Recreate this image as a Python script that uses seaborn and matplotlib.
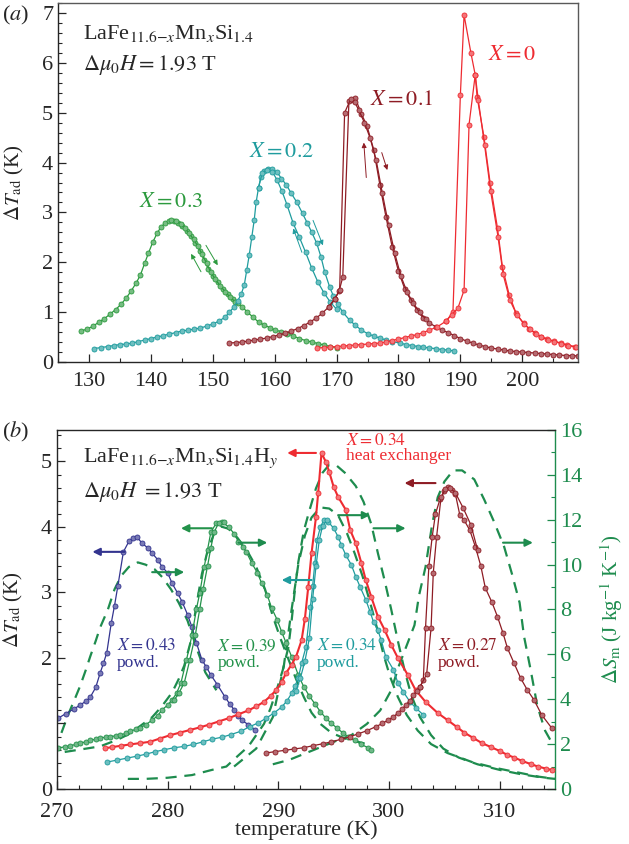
# LaFe(Mn,Si)(H) magnetocaloric curves - two panel figure
import numpy as np
import pandas as pd
import seaborn as sns
import matplotlib
matplotlib.use("Agg")
import matplotlib.pyplot as plt
from matplotlib.ticker import MultipleLocator
from matplotlib.colors import to_rgb

# ---------------- panel (a) data : dT_ad (K) vs T (K) ----------------
# X = 0
T0a = [166.8, 168.0, 169.0, 170.0, 171.0, 172.0, 173.0, 174.0, 175.0, 176.0, 177.0, 178.0, 179.0, 180.0,
       181.0, 182.0, 183.0, 184.0, 185.0, 186.2, 187.7, 188.8, 190.0, 190.6, 191.7, 192.4, 192.7, 193.8,
       194.8, 196.0, 196.8, 197.9, 199.0, 200.2, 201.1, 202.1, 203.0, 204.0, 205.1, 206.2, 207.3, 208.5]
y0a = [0.28, 0.29, 0.30, 0.31, 0.32, 0.33, 0.34, 0.35, 0.36, 0.37, 0.38, 0.40, 0.43, 0.46,
       0.49, 0.52, 0.55, 0.59, 0.64, 0.70, 0.82, 1.00, 5.36, 6.96, 6.20, 5.76, 5.32, 4.52,
       3.60, 2.68, 1.90, 1.34, 0.98, 0.78, 0.67, 0.58, 0.51, 0.46, 0.42, 0.38, 0.34, 0.31]
T0b = [187.7, 188.6, 189.6, 190.6, 191.4, 192.4, 192.9, 193.9, 194.9, 196.1, 196.9, 198.0, 199.1,
       200.3, 201.2, 202.2, 203.1, 204.1, 205.2, 206.3, 207.4, 208.6]
y0b = [0.82, 0.95, 1.08, 1.44, 4.76, 5.76, 5.25, 4.36, 3.42, 2.50, 1.76, 1.24, 0.95,
       0.76, 0.66, 0.57, 0.50, 0.45, 0.41, 0.37, 0.33, 0.30]

# X = 0.1
T1a = [152.7, 153.7, 154.7, 155.7, 156.7, 157.7, 158.7, 159.7, 160.7, 161.7, 162.7, 163.7, 164.7, 165.7,
       166.7, 167.7, 168.7, 169.7, 170.4, 171.0, 172.0, 172.6, 173.0, 174.0, 174.9, 176.0, 177.0, 178.0,
       179.0, 180.0, 181.0, 182.0, 183.0, 184.0, 185.0, 186.0, 187.0, 188.0, 189.0, 190.0, 191.0, 192.0,
       193.0, 194.0, 195.0, 196.0, 197.0, 198.0, 199.0, 200.0, 201.0, 202.0, 203.0, 204.0, 205.0, 206.0,
       207.0, 208.0, 209.0]
y1a = [0.38, 0.39, 0.40, 0.42, 0.44, 0.46, 0.48, 0.51, 0.54, 0.58, 0.62, 0.67, 0.73, 0.80,
       0.88, 0.98, 1.10, 1.26, 1.42, 1.70, 5.24, 5.26, 5.30, 4.98, 4.74, 4.26, 3.55, 2.90,
       2.30, 1.82, 1.47, 1.24, 1.04, 0.88, 0.78, 0.71, 0.64, 0.59, 0.53, 0.47, 0.42, 0.38,
       0.34, 0.31, 0.28, 0.26, 0.24, 0.22, 0.21, 0.20, 0.19, 0.18, 0.17, 0.16, 0.15, 0.14,
       0.13, 0.13, 0.12]
T1b = [168.7, 169.7, 170.5, 171.3, 172.3, 172.9, 173.6, 174.5, 175.4, 176.4, 177.4, 178.4, 179.4,
       180.4, 181.4, 182.4, 183.4, 184.4]
y1b = [1.10, 1.26, 1.45, 5.00, 5.28, 5.22, 5.05, 4.80, 4.50, 4.05, 3.38, 2.75, 2.18,
       1.72, 1.40, 1.18, 1.00, 0.86]

# X = 0.2
T2a = [130.8, 132.0, 133.0, 134.0, 135.0, 136.0, 137.0, 138.0, 139.0, 140.0, 141.0, 142.0, 143.0, 144.0,
       145.0, 146.0, 147.0, 148.0, 149.0, 150.0, 151.0, 152.0, 152.7, 153.4, 154.0, 154.6, 155.1, 155.5,
       155.9, 156.3, 156.7, 157.0, 157.4, 157.8, 158.3, 158.9, 159.5, 160.3, 161.1, 161.9, 162.7, 163.6,
       164.5, 165.3, 166.0, 166.8, 167.5, 168.1, 168.9, 169.5, 170.2, 171.0, 172.1, 173.0, 174.0, 175.0,
       176.0, 177.0, 178.0, 179.0, 180.2, 181.2, 182.2, 183.2, 184.0, 185.0, 186.0, 187.0, 188.0, 189.0]
y2a = [0.27, 0.29, 0.31, 0.33, 0.35, 0.36, 0.38, 0.41, 0.44, 0.47, 0.50, 0.53, 0.56, 0.59,
       0.62, 0.64, 0.66, 0.68, 0.72, 0.76, 0.82, 0.90, 1.00, 1.10, 1.22, 1.36, 1.55, 1.85,
       2.15, 2.50, 2.85, 3.20, 3.50, 3.72, 3.84, 3.88, 3.87, 3.82, 3.68, 3.55, 3.38, 3.20,
       2.98, 2.78, 2.60, 2.38, 2.10, 1.80, 1.50, 1.32, 1.16, 1.00, 0.84, 0.74, 0.64, 0.57,
       0.52, 0.48, 0.44, 0.41, 0.38, 0.35, 0.33, 0.31, 0.30, 0.28, 0.27, 0.25, 0.24, 0.22]
T2b = [157.4, 158.0, 158.8, 159.6, 160.4, 161.2, 162.0, 163.0, 164.0, 165.0, 166.0, 167.0, 168.0, 169.0, 170.0]
y2b = [3.50, 3.80, 3.86, 3.82, 3.65, 3.42, 3.15, 2.78, 2.50, 2.20, 1.88, 1.60, 1.38, 1.20, 1.06]

# X = 0.3
T3a = [128.7, 129.7, 130.7, 131.6, 132.5, 133.4, 134.3, 135.2, 136.0, 136.8, 137.6, 138.3, 139.0, 139.6,
       140.3, 141.0, 141.6, 142.3, 143.0, 143.7, 144.4, 145.1, 145.8, 146.5, 147.2, 147.9, 148.6, 149.3,
       150.0, 150.8, 151.6, 152.4, 153.2, 154.0, 154.8, 155.6, 156.5, 157.4, 158.3, 159.2, 160.1, 161.0,
       162.0, 163.0, 164.0, 165.0, 166.0, 167.0, 168.0, 169.0, 170.0]
y3a = [0.62, 0.66, 0.72, 0.80, 0.87, 0.96, 1.05, 1.16, 1.28, 1.42, 1.58, 1.74, 1.98, 2.18,
       2.40, 2.58, 2.70, 2.79, 2.82, 2.82, 2.79, 2.72, 2.62, 2.52, 2.39, 2.23, 2.05, 1.86,
       1.72, 1.60, 1.47, 1.36, 1.26, 1.18, 1.10, 1.00, 0.90, 0.80, 0.74, 0.69, 0.64, 0.61,
       0.57, 0.52, 0.47, 0.43, 0.40, 0.37, 0.34, 0.31, 0.29]
T3b = [143.3, 144.1, 144.8, 145.5, 146.2, 146.9, 147.6, 148.3, 149.0, 149.7, 150.4, 151.2, 152.0, 152.8, 153.6]
y3b = [2.84, 2.83, 2.77, 2.68, 2.58, 2.46, 2.32, 2.16, 1.98, 1.80, 1.66, 1.53, 1.41, 1.30, 1.21]

# ---------------- panel (b) data ----------------
# dT_ad (K), left axis
x43 = [270.1, 270.8, 271.5, 272.1, 272.6, 273.0, 273.5, 273.9, 274.2, 274.5, 274.9, 275.2, 275.5, 276.0,
       276.5, 276.9, 277.2, 277.7, 278.2, 278.6, 279.1, 279.5, 280.0, 280.4, 280.9, 281.3, 281.8, 282.2,
       282.6, 283.1, 283.5, 283.9, 284.5, 285.2, 285.6, 286.0, 286.4, 286.7, 287.3, 287.9]
y43 = [1.08, 1.15, 1.22, 1.28, 1.34, 1.40, 1.55, 1.77, 1.92, 2.08, 2.53, 2.80, 3.10, 3.62,
       3.78, 3.83, 3.85, 3.75, 3.68, 3.60, 3.50, 3.39, 3.30, 3.14, 2.99, 2.86, 2.66, 2.47,
       2.23, 1.97, 1.86, 1.74, 1.59, 1.40, 1.30, 1.21, 1.12, 1.05, 0.98, 0.90]

x39 = [270.1, 270.7, 271.2, 271.7, 272.1, 272.6, 273.0, 273.5, 273.9, 274.4, 274.8, 275.3, 275.7, 276.2,
       276.6, 277.1, 277.5, 278.0, 278.6, 279.1, 279.5, 280.0, 280.4, 280.8, 281.2, 281.7, 282.2, 282.6,
       282.9, 283.3, 283.6, 283.9, 284.4, 284.9, 285.5, 286.0, 286.4, 286.8, 287.1, 287.6, 288.1, 288.5,
       289.0, 289.4, 289.9, 290.3, 290.7, 291.2, 291.8, 292.3, 292.8, 293.3, 293.8, 294.3, 294.8, 295.3,
       295.8, 296.3, 296.9, 297.5, 298.1, 298.4]
y39 = [0.63, 0.64, 0.66, 0.68, 0.70, 0.72, 0.74, 0.76, 0.78, 0.79, 0.80, 0.81, 0.82, 0.85,
       0.88, 0.91, 0.93, 0.98, 1.05, 1.12, 1.21, 1.28, 1.36, 1.46, 1.62, 1.97, 2.35, 2.75,
       2.99, 3.39, 3.65, 3.92, 4.06, 4.08, 4.00, 3.90, 3.77, 3.70, 3.62, 3.45, 3.30, 3.14,
       2.96, 2.76, 2.58, 2.40, 2.23, 2.02, 1.74, 1.56, 1.42, 1.30, 1.18, 1.08, 1.00, 0.93,
       0.86, 0.80, 0.74, 0.68, 0.63, 0.60]
x39b = [280.6, 281.0, 281.5, 282.0, 282.5, 282.9, 283.2, 283.6, 283.9, 284.2, 284.6, 285.1]
y39b = [1.36, 1.46, 1.62, 1.97, 2.35, 2.75, 3.05, 3.40, 3.68, 3.92, 4.06, 4.07]

x34h = [274.3, 275.0, 275.8, 276.6, 277.5, 278.4, 279.3, 280.2, 281.1, 282.0, 282.9, 283.7, 284.6, 285.5,
        286.4, 287.3, 288.0, 288.7, 289.3, 289.8, 290.3, 290.7, 291.2, 291.6, 292.1, 292.4, 292.7, 293.0,
        293.4, 293.6, 293.9, 294.3, 294.6, 295.0, 295.4, 296.1, 296.5, 297.0, 297.5, 297.9, 298.4, 299.0,
        299.6, 300.2, 300.8, 301.7, 302.4, 303.3, 304.4, 305.3, 306.1, 306.8, 307.6, 308.4, 309.2, 310.0,
        310.7, 311.3, 312.0, 312.8, 313.5, 314.2, 314.7]
y34h = [0.62, 0.64, 0.66, 0.68, 0.70, 0.72, 0.77, 0.82, 0.86, 0.90, 0.94, 0.98, 1.03, 1.08,
        1.14, 1.20, 1.26, 1.33, 1.42, 1.51, 1.63, 1.77, 1.90, 2.02, 2.27, 2.60, 3.08, 3.60,
        4.15, 4.52, 5.13, 4.99, 4.84, 4.61, 4.46, 4.26, 3.95, 3.75, 3.45, 3.19, 2.93, 2.63,
        2.43, 2.20, 2.00, 1.74, 1.51, 1.33, 1.16, 1.05, 0.95, 0.86, 0.78, 0.70, 0.64, 0.58,
        0.52, 0.48, 0.43, 0.38, 0.34, 0.31, 0.29]

x34p = [274.5, 275.4, 276.3, 277.2, 278.0, 278.9, 279.7, 280.6, 281.5, 282.3, 283.2, 284.0, 284.9, 285.7,
        286.6, 287.4, 288.2, 288.9, 289.6, 290.3, 290.8, 291.2, 291.5, 291.8, 292.1, 292.5, 292.9, 293.1,
        293.3, 293.5, 293.8, 294.1, 294.5, 295.0, 295.4, 295.7, 296.1, 296.6, 297.0, 297.4, 297.9, 298.3,
        298.6, 299.0, 299.3, 299.7, 300.4, 300.8, 301.3, 301.9, 302.4, 303.1]
y34p = [0.41, 0.44, 0.47, 0.50, 0.53, 0.57, 0.60, 0.63, 0.65, 0.68, 0.72, 0.76, 0.79, 0.83,
        0.88, 0.95, 1.01, 1.08, 1.16, 1.25, 1.35, 1.46, 1.57, 1.69, 1.92, 2.17, 2.78, 3.10,
        3.45, 3.80, 4.00, 4.10, 4.08, 3.98, 3.85, 3.72, 3.57, 3.42, 3.24, 3.08, 2.89, 2.70,
        2.55, 2.42, 2.27, 2.02, 1.82, 1.62, 1.48, 1.33, 1.24, 1.13]
x34p2 = [291.6, 292.0, 292.4, 292.8, 293.1, 293.4, 293.7, 294.0, 294.4]
y34p2 = [1.50, 1.70, 1.95, 2.30, 2.90, 3.40, 3.80, 4.02, 4.10]

x27 = [288.9, 289.7, 290.6, 291.4, 292.3, 293.1, 294.0, 294.8, 295.7, 296.5, 297.2, 298.0, 298.8, 299.4,
       299.9, 300.4, 300.8, 301.2, 301.5, 301.9, 302.2, 302.5, 302.8, 303.1, 303.3, 303.6, 303.9, 304.2,
       304.6, 305.0, 305.3, 305.7, 306.0, 306.4, 306.8, 307.3, 307.8, 308.3, 308.7, 309.3, 309.8, 310.3,
       310.7, 311.3, 311.9, 312.5, 313.1, 313.8, 314.7]
y27 = [0.55, 0.57, 0.59, 0.61, 0.63, 0.66, 0.69, 0.72, 0.76, 0.80, 0.84, 0.89, 0.95, 1.00,
       1.05, 1.10, 1.16, 1.22, 1.28, 1.35, 1.43, 1.50, 1.56, 1.66, 2.46, 3.40, 3.85, 4.20,
       4.42, 4.55, 4.61, 4.57, 4.50, 4.18, 4.10, 3.95, 3.70, 3.40, 3.07, 2.85, 2.63, 2.38,
       2.15, 1.92, 1.69, 1.51, 1.36, 1.13, 0.93]
x27b = [302.8, 303.4, 303.8, 304.0, 304.3, 304.7, 305.1, 305.5, 306.0, 306.7, 307.4, 308.0]
y27b = [1.56, 1.75, 2.46, 3.30, 3.85, 4.45, 4.58, 4.60, 4.52, 4.29, 4.03, 3.65]

# dS_m (J/kg K), right axis, dashed
d43_T = [270.4, 271.0, 271.6, 272.1, 272.6, 273.0, 273.5, 273.9, 274.6, 275.2, 275.8, 276.5, 277.3, 278.0,
         278.8, 279.5, 280.3, 281.0, 281.8, 282.6, 283.4, 284.4]
d43_S = [2.5, 3.3, 4.0, 4.6, 5.3, 5.9, 6.6, 7.2, 8.0, 8.9, 9.5, 9.9, 10.1, 10.0,
         9.8, 9.45, 8.9, 8.3, 7.5, 6.3, 5.2, 4.4]
d39_T = [270.7, 272.0, 273.9, 275.5, 276.5, 277.5, 278.6, 279.5, 280.4, 281.0, 281.5, 282.1, 282.6, 283.1,
         283.6, 284.2, 284.8, 285.5, 286.3, 287.2, 288.0, 288.8, 289.5, 290.2, 290.9, 291.6, 292.3, 293.0,
         293.8, 294.8, 296.0, 297.2, 298.0]
d39_S = [1.65, 1.75, 1.9, 2.2, 2.45, 2.8, 3.2, 3.7, 4.3, 4.9, 5.5, 6.6, 8.2, 9.6,
         10.6, 11.4, 11.7, 11.6, 11.2, 10.6, 9.9, 8.9, 7.7, 6.7, 5.8, 4.9, 4.1, 3.4,
         2.9, 2.5, 2.25, 2.1, 2.0]
d34h_T = [276.4, 278.0, 280.0, 282.2, 284.0, 285.3, 286.4, 287.3, 288.0, 288.7, 289.3, 289.9, 290.4, 290.9,
          291.2, 291.5, 291.8, 292.3, 292.8, 293.4, 294.0, 294.6, 295.3, 296.0, 297.0, 297.7, 298.4, 299.0,
          299.6, 300.2, 300.8, 301.4, 302.0, 302.8, 303.8, 304.9, 306.3, 308.0, 310.0, 312.0, 314.0, 315.0]
d34h_S = [0.45, 0.45, 0.5, 0.62, 0.85, 1.0, 1.5, 1.9, 2.4, 2.9, 3.6, 4.5, 5.3, 6.3,
          7.5, 8.9, 10.1, 11.5, 12.4, 13.4, 14.1, 14.45, 14.4, 14.1, 13.5, 12.8, 11.8, 10.5,
          9.3, 8.0, 6.6, 5.3, 4.2, 3.2, 2.4, 1.8, 1.4, 1.1, 0.85, 0.65, 0.5, 0.45]
d34p_T = [286.0, 288.0, 289.5, 290.5, 291.2, 291.8, 292.4, 293.0, 293.8, 294.6, 295.4, 296.2, 296.9, 297.6,
          298.3, 298.9, 299.5, 300.1, 300.8, 301.6, 302.6, 303.8, 305.3, 307.5, 309.5, 311.5, 313.5, 315.0]
d34p_S = [1.0, 1.8, 3.2, 5.5, 8.0, 10.0, 11.3, 12.1, 12.55, 12.5, 12.2, 11.4, 10.5, 9.5,
          8.3, 7.2, 6.0, 5.0, 4.1, 3.3, 2.6, 2.0, 1.6, 1.2, 0.95, 0.75, 0.55, 0.45]
d27_T = [289.5, 291.0, 293.0, 295.0, 296.6, 298.0, 299.2, 300.2, 300.9, 301.6, 302.3, 302.7, 303.3, 303.9,
         304.4, 305.0, 305.8, 306.6, 307.7, 308.6, 309.5, 310.4, 311.1, 311.8, 312.2, 312.8, 313.4, 314.1, 314.9]
d27_S = [1.1, 1.3, 1.7, 2.1, 2.4, 2.9, 3.5, 4.4, 5.5, 6.4, 7.3, 8.6, 9.9, 11.8,
         13.0, 13.7, 14.2, 14.2, 13.8, 12.9, 11.9, 10.8, 9.6, 8.3, 6.8, 5.3, 3.7, 2.6, 1.9]

# colours
RED = "#ee2b31"
DRED = "#8e1c24"
TEAL = "#1f9c9e"
GREEN_A = "#2c9a3e"
GREEN_B = "#23924a"
NAVY = "#33348f"
DASH = "#1e8c4e"

sns.set_style("ticks")
plt.rcParams["font.family"] = ["Liberation Serif", "DejaVu Serif"]
plt.rcParams["mathtext.fontset"] = "stix"
plt.rcParams["xtick.direction"] = "in"
plt.rcParams["ytick.direction"] = "in"


def lighter(c, f=0.35):
    r, g, b = to_rgb(c)
    return (r + (1 - r) * f, g + (1 - g) * f, b + (1 - b) * f)


def curve(ax, x, y, c, lw=0.9, ms=3.6):
    sns.lineplot(x=x, y=y, ax=ax, color=c, lw=lw, marker="o", markersize=ms,
                 markerfacecolor=lighter(c), markeredgecolor=c, markeredgewidth=0.6,
                 sort=False, estimator=None, legend=False)


def dashed(ax, x, y):
    sns.lineplot(x=x, y=y, ax=ax, color=DASH, lw=1.6, linestyle=(0, (5, 3.5)),
                 sort=False, estimator=None, legend=False)


def arrow(ax, tail, head, c, lw=1.5, ms=11):
    ax.annotate("", xy=head, xytext=tail,
                arrowprops=dict(arrowstyle="-|>", color=c, lw=lw, mutation_scale=ms,
                                shrinkA=0, shrinkB=0))


fig = plt.figure(figsize=(6.29, 8.44), dpi=100)
axa = fig.add_axes([0.0922, 0.5711, 0.8267, 0.4253])
axb = fig.add_axes([0.0906, 0.0652, 0.7918, 0.4253])

# ---------------- panel (a) ----------------
curve(axa, T3a, y3a, GREEN_A)
curve(axa, T3b, y3b, GREEN_A)
curve(axa, T2a, y2a, TEAL)
curve(axa, T2b, y2b, TEAL)
curve(axa, T1a, y1a, DRED)
curve(axa, T1b, y1b, DRED)
curve(axa, T0a, y0a, RED)
curve(axa, T0b, y0b, RED)

axa.set_xlim(125, 209)
axa.set_ylim(0, 7.2)
axa.xaxis.set_major_locator(MultipleLocator(10))
axa.xaxis.set_minor_locator(MultipleLocator(5))
axa.yaxis.set_major_locator(MultipleLocator(1))
axa.yaxis.set_minor_locator(MultipleLocator(0.2))
axa.tick_params(which="major", length=6, width=0.9, labelsize=16, top=False, right=False)
axa.tick_params(axis="x", which="major", pad=7)
axa.tick_params(which="minor", length=3, width=0.8, top=False, right=False)
axa.set_xlabel("")
axa.set_ylabel(r"$\Delta T_{\rm ad}$ (K)", fontsize=15)
axa.yaxis.set_label_coords(-0.062, 0.5)
for s in axa.spines.values():
    s.set_linewidth(1.0)
axa.spines["top"].set_color("0.35")
axa.spines["right"].set_color("0.35")

axa.text(0.048, 0.916, r"LaFe$_{11.6\mathit{-x}}$Mn$_x$Si$_{1.4}$", transform=axa.transAxes,
         fontsize=16, va="center", ha="left")
axa.text(0.048, 0.827, r"$\Delta\mu_0H = 1.93$ T", transform=axa.transAxes,
         fontsize=16, va="center", ha="left")
axa.text(138.1, 3.2, r"$X = 0.3$", color=GREEN_A, fontsize=16, va="center")
axa.text(155.9, 4.2, r"$X = 0.2$", color=TEAL, fontsize=16, va="center")
axa.text(175.4, 5.24, r"$X = 0.1$", color=DRED, fontsize=16, va="center")
axa.text(194.5, 6.14, r"$X = 0$", color=RED, fontsize=16, va="center")

arrow(axa, (148.1, 1.81), (146.5, 2.17), GREEN_A, lw=0.7, ms=7)
arrow(axa, (148.9, 2.34), (150.8, 1.94), GREEN_A, lw=0.7, ms=7)
arrow(axa, (164.4, 2.2), (163.0, 2.68), TEAL, lw=0.7, ms=7)
arrow(axa, (166.2, 2.84), (167.8, 2.34), TEAL, lw=0.7, ms=7)
arrow(axa, (174.8, 3.7), (174.4, 4.4), DRED, lw=0.7, ms=7)
arrow(axa, (177.3, 4.2), (178.2, 3.85), DRED, lw=0.7, ms=7)

# ---------------- panel (b) ----------------
axb2 = axb.twinx()
axb2.set_position(axb.get_position())
dashed(axb2, d43_T, d43_S)
dashed(axb2, d39_T, d39_S)
dashed(axb2, d34h_T, d34h_S)
dashed(axb2, d34p_T, d34p_S)
dashed(axb2, d27_T, d27_S)
axb2.set_ylim(0, 16)
axb2.set_xlim(270, 315)

curve(axb, x43, y43, NAVY)
curve(axb, x39, y39, GREEN_B)
curve(axb, x39b, y39b, GREEN_B)
curve(axb, x34p, y34p, TEAL)
curve(axb, x34p2, y34p2, TEAL)
curve(axb, x34h, y34h, RED, lw=1.5)
curve(axb, x27, y27, DRED)
curve(axb, x27b, y27b, DRED)

axb.set_xlim(270, 315)
axb.set_ylim(0, 5.48)
axb.set_zorder(axb2.get_zorder() + 1)
axb.patch.set_visible(False)

axb.xaxis.set_major_locator(MultipleLocator(10))
axb.xaxis.set_minor_locator(MultipleLocator(2))
axb.set_yticks([0, 1, 2, 3, 4, 5])
axb.set_yticklabels(["0", "", "2", "3", "4", "5"])
axb.yaxis.set_minor_locator(MultipleLocator(0.2))
axb.tick_params(which="major", length=6, width=0.9, labelsize=16, top=False, right=False)
axb.tick_params(axis="x", which="major", pad=10)
axb.tick_params(which="minor", length=3, width=0.8, top=False, right=False)
axb.set_xlabel("temperature (K)", fontsize=16, labelpad=-1)
axb.set_ylabel(r"$\Delta T_{\rm ad}$ (K)", fontsize=15)
axb.yaxis.set_label_coords(-0.064, 0.5)
for s in axb.spines.values():
    s.set_linewidth(1.0)
axb.spines["right"].set_visible(False)

axb2.yaxis.set_major_locator(MultipleLocator(2))
axb2.yaxis.set_minor_locator(MultipleLocator(1))
axb2.tick_params(axis="y", which="major", length=6, width=0.9, labelsize=16,
                 colors=DASH, direction="in")
axb2.tick_params(axis="y", which="minor", length=3, width=0.8, colors=DASH, direction="in")
axb2.set_ylabel(r"$\Delta S_{\rm m}$ (J kg$^{-1}$ K$^{-1}$)", fontsize=15, color=DASH)
axb2.yaxis.set_label_coords(1.086, 0.5)
for k, s in axb2.spines.items():
    s.set_visible(k == "right")
axb2.spines["right"].set_color(DASH)
axb2.spines["right"].set_linewidth(1.0)
axb2.set_xlabel("")

axb.text(0.052, 0.922, r"LaFe$_{11.6\mathit{-x}}$Mn$_x$Si$_{1.4}$H$_y$", transform=axb.transAxes,
         fontsize=16, va="center", ha="left")
axb.text(0.052, 0.827, r"$\Delta\mu_0H\ = 1.93$ T", transform=axb.transAxes,
         fontsize=16, va="center", ha="left")

axb.text(296.1, 5.31, r"$X = 0.34$", color=RED, fontsize=12.5, va="center")
axb.text(296.1, 5.08, "heat exchanger", color=RED, fontsize=12.5, va="center")
for tx, lab, c in [(275.4, r"$X = 0.43$", NAVY), (284.5, r"$X = 0.39$", GREEN_B),
                   (293.5, r"$X = 0.34$", TEAL), (304.4, r"$X = 0.27$", DRED)]:
    axb.text(tx, 2.18, lab, color=c, fontsize=12.5, va="center")
    axb.text(tx, 1.92, "powd.", color=c, fontsize=12.5, va="center")

# left arrows -> dT axis, right arrows -> dS axis
arrow(axb, (276.1, 3.62), (273.2, 3.62), NAVY)
arrow(axb, (284.0, 3.98), (281.2, 3.98), GREEN_B)
arrow(axb, (293.4, 5.13), (290.8, 5.13), RED)
arrow(axb, (293.0, 3.19), (290.3, 3.19), TEAL)
arrow(axb, (304.2, 4.67), (301.4, 4.67), DRED)
arrow(axb, (278.6, 3.31), (281.5, 3.31), DASH)
arrow(axb, (286.4, 3.76), (289.0, 3.76), DASH)
arrow(axb, (295.4, 4.18), (298.3, 4.18), DASH)
arrow(axb, (298.6, 3.98), (301.5, 3.98), DASH)
arrow(axb, (310.3, 3.76), (313.0, 3.76), DASH)

fig.text(0.003, 0.982, r"($a$)", fontsize=16, va="center", ha="left")
fig.text(0.003, 0.488, r"($b$)", fontsize=16, va="center", ha="left")

fig.savefig("out.png", dpi=100)
